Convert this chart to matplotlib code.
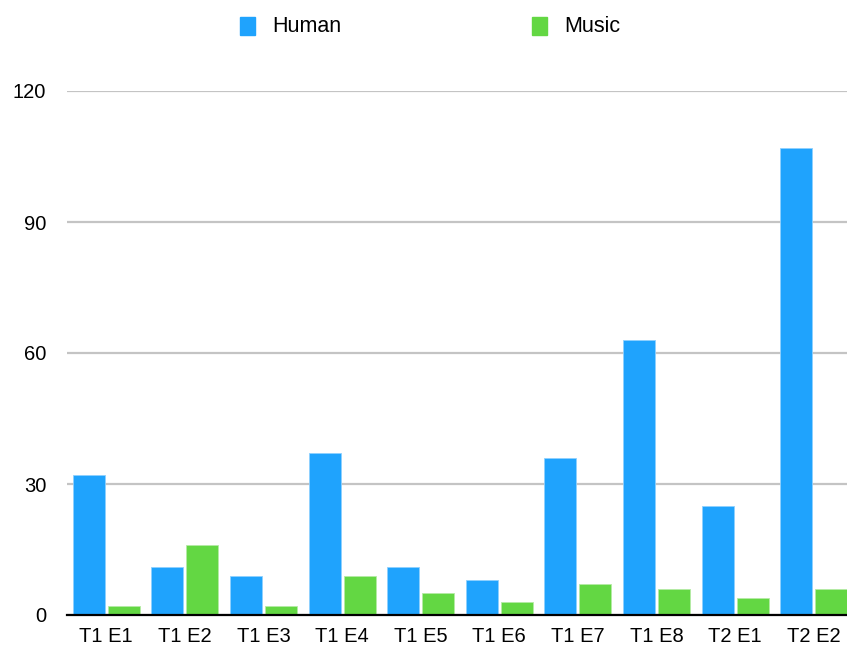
import numpy as np
import matplotlib.pyplot as plt
from matplotlib.patches import Rectangle

plt.rcParams['font.family'] = ['Liberation Sans', 'DejaVu Sans']

# Episode counts per category
episodes = ["T1 E1", "T1 E2", "T1 E3", "T1 E4", "T1 E5",
            "T1 E6", "T1 E7", "T1 E8", "T2 E1", "T2 E2"]
human = [32, 11, 9, 37, 11, 8, 36, 63, 25, 107]
music = [2, 16, 2, 9, 5, 3, 7, 6, 4, 6]
y_ticks = [0, 30, 60, 90, 120]

blue = "#1FA3FD"
green = "#63D743"

W, H = 847, 646
fig = plt.figure(figsize=(W / 100, H / 100), dpi=100)

# axes run slightly past the right edge so the last bar is clipped
left, right, bottom, top = 67, 853, 31, 555
ax = fig.add_axes([left / W, bottom / H, (right - left) / W, (top - bottom) / H])

x = np.arange(len(episodes))
bar_w = 0.408
off = 0.223
ax.bar(x - off, human, bar_w, color=blue, edgecolor="#8FD0FF", linewidth=0.6, zorder=3)
ax.bar(x + off, music, bar_w, color=green, edgecolor="#B5EBA5", linewidth=0.6, zorder=3)

ax.set_xlim(-0.5, len(episodes) - 0.5)
ax.set_ylim(0, 120)
ax.set_yticks(y_ticks)
ax.set_yticklabels([str(v) for v in y_ticks], fontsize=14.5)
ax.set_xticks(x)
ax.set_xticklabels(episodes, fontsize=14.5)
ax.tick_params(axis="y", length=0, pad=15)
ax.tick_params(axis="x", length=0, pad=9)

ax.grid(axis="y", color="#C4C4C4", linewidth=1.6, zorder=0)
ax.grid(axis="x", visible=False)
for side in ["top", "right", "left"]:
    ax.spines[side].set_visible(False)
ax.spines["bottom"].set_color("black")
ax.spines["bottom"].set_linewidth(1.6)
ax.spines["bottom"].set_zorder(4)

# legend across the top
def legend_item(px, label, color):
    fig.add_artist(Rectangle((px / W, 1 - 35 / H), 15 / W, 18 / H,
                             transform=fig.transFigure, color=color))
    fig.text((px + 32) / W, 1 - 27 / H, label, fontsize=15.5, va="center", ha="left")

legend_item(240, "Human", blue)
legend_item(532, "Music", green)

fig.savefig("out.png", dpi=100)
